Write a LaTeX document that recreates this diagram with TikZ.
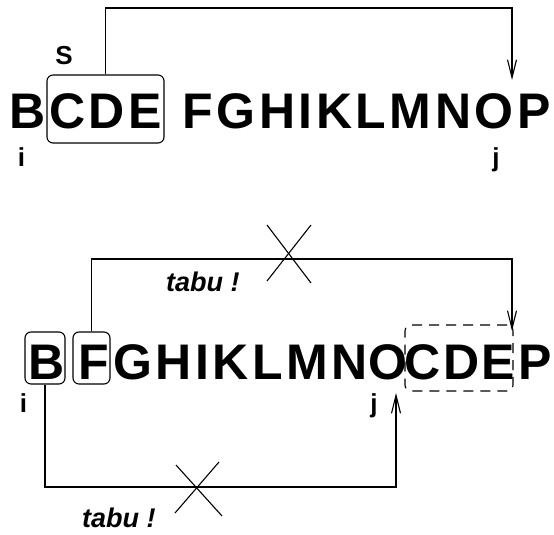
\documentclass[tikz,border=0pt]{standalone}
\usepackage{fontspec}
\setmainfont{Liberation Sans}
\usetikzlibrary{arrows.meta}
\tikzset{
  big/.style={anchor=base west, inner sep=0pt, font=\fontsize{50}{60}\selectfont\bfseries},
  lab/.style={anchor=base, inner sep=0pt, font=\fontsize{26}{30}\selectfont\bfseries},
  tabulab/.style={anchor=base west, inner sep=0pt, font=\fontsize{27}{30}\selectfont\bfseries\itshape},
  selbox/.style={draw, line width=1.1pt, rounded corners=6pt, inner sep=0pt},
  conn/.style={line width=1.1pt},
  arr/.style={conn, -{Straight Barb[length=18pt,width=9pt,line width=1.1pt]}},
}
\begin{document}
\begin{tikzpicture}[x=1pt,y=-1pt]
\useasboundingbox (0,0) rectangle (554,535);
% top row
\foreach \l/\x [count=\k] in {B/9.5, C/49.1, D/88.7, E/128.3, F/182.55, G/216.6, H/259.0, I/298.6, K/316.0, L/355.6, M/389.65, N/434.8, O/474.4, P/516.8}
  \node[big] (t\k) at (\x,128) {\l};
% bottom row
\foreach \l/\x [count=\k] in {B/28.5, F/78.5, G/112.8, H/155.2, I/194.8, K/212.2, L/251.8, M/285.85, N/331.0, O/368.0, C/404.5, D/443.5, E/481.5, P/518.0}
  \node[big] (b\k) at (\x,379) {\l};
% boxes
\node[selbox, minimum width=117pt, minimum height=68pt] (tbox) at (105.5,109) {};
\node[selbox, minimum width=40pt, minimum height=52pt] (bbox) at (45,358) {};
\node[selbox, minimum width=37pt, minimum height=52pt] (fbox) at (91.5,358) {};
\node[selbox, dash pattern=on 10pt off 7pt, minimum width=108pt, minimum height=66pt] (dbox) at (459,358) {};
% labels
\node[lab] (s) at (64,64) {S};
\node[lab] (ti) at (21.5,166) {i};
\node[lab] (tj) at (496,166) {j};
\node[lab] (bi) at (23.5,412) {i};
\node[lab] (bj) at (374,412) {j};
\node[tabulab] (tabu1) at (166,291) {tabu !};
\node[tabulab] (tabu2) at (82,527) {tabu !};
% connectors
\coordinate (topy) at (0,8);
\coordinate (ins1) at (512,80);
\draw[arr] (tbox.north) |- (ins1 |- topy) -- (ins1);
\coordinate (midy) at (0,259);
\coordinate (ins2) at (512,331);
\draw[arr] (fbox.north) |- (ins2 |- midy) -- (ins2);
\coordinate (boty) at (0,487);
\coordinate (ins3) at (396,393);
\draw[arr] (bbox.south) |- (ins3 |- boty) -- (ins3);
% crosses
\coordinate (x1) at (289,254);
\draw[conn] (x1) +(-22,-29) -- +(22,29);
\draw[conn] (x1) +(22,-29) -- +(-22,27);
\coordinate (x2) at (197,487);
\draw[conn] (x2) +(-21,-22) -- +(25,29);
\draw[conn] (x2) +(22,-25) -- +(-22,26);
\end{tikzpicture}
\end{document}
